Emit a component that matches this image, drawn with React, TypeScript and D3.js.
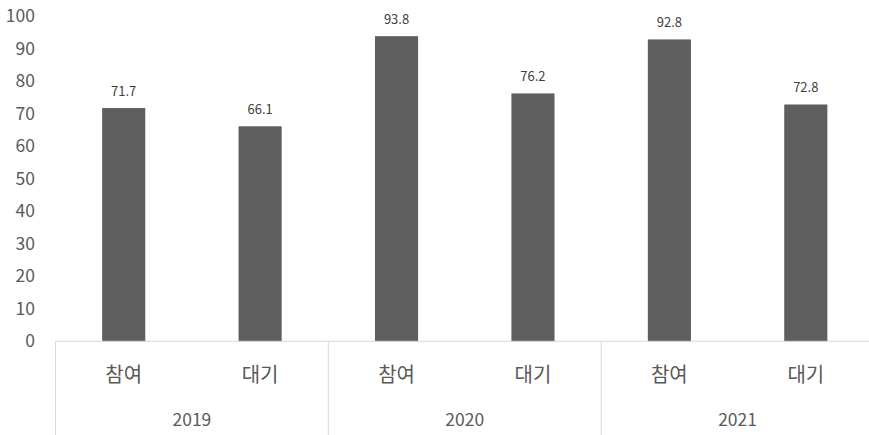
import React from "react";
import * as d3 from "d3";

const years = ["2019", "2020", "2021"];
const groups = ["참여", "대기"];
const values2019 = [71.7, 66.1];
const values2020 = [93.8, 76.2];
const values2021 = [92.8, 72.8];
const yTicks = [0, 10, 20, 30, 40, 50, 60, 70, 80, 90, 100];

const W = 869;
const H = 435;
const left = 55.5;
const right = 874;
const top = 16;
const bottom = 341.3;

const font = "'Noto Sans CJK KR', 'Noto Sans', sans-serif";

export default function App() {
  const seriesByYear = [values2019, values2020, values2021];
  const rows = years.flatMap((yr, i) =>
    groups.map((g, j) => ({ key: `${yr}-${g}`, year: yr, group: g, value: seriesByYear[i][j] }))
  );

  const x = d3
    .scaleBand<string>()
    .domain(rows.map((r) => r.key))
    .range([left, right])
    .paddingInner(0.684)
    .paddingOuter(0.342);
  const yearX = d3.scaleBand<string>().domain(years).range([left, right]);
  const y = d3.scaleLinear().domain([0, 100]).range([bottom, top]);

  return (
    <svg width={W} height={H} style={{ position: "absolute", left: 0, top: 0, background: "#fff" }}>
      {yTicks.map((t) => (
        <text
          key={t}
          x={35}
          y={y(t)}
          dy="0.35em"
          textAnchor="end"
          fontSize={17.5}
          fill="#595959"
          fontFamily={font}
        >
          {t}
        </text>
      ))}
      {rows.map((r) => (
        <g key={r.key}>
          <rect
            x={x(r.key)}
            y={y(r.value)}
            width={x.bandwidth()}
            height={y(0) - y(r.value)}
            fill="#5e5e5e"
          />
          <text
            x={(x(r.key) as number) + x.bandwidth() / 2}
            y={y(r.value) - 12}
            textAnchor="middle"
            fontSize={13}
            fill="#404040"
            fontFamily={font}
          >
            {r.value.toFixed(1)}
          </text>
          <text
            x={(x(r.key) as number) + x.bandwidth() / 2}
            y={375}
            dy="0.35em"
            textAnchor="middle"
            fontSize={20}
            fill="#595959"
            fontFamily={font}
          >
            {r.group}
          </text>
        </g>
      ))}
      <line x1={left} x2={W} y1={bottom} y2={bottom} stroke="#d9d9d9" strokeWidth={1} />
      {years.map((yr) => (
        <g key={yr}>
          <line
            x1={yearX(yr)}
            x2={yearX(yr)}
            y1={bottom}
            y2={H}
            stroke="#d9d9d9"
            strokeWidth={1}
          />
          <text
            x={(yearX(yr) as number) + yearX.bandwidth() / 2}
            y={420}
            dy="0.35em"
            textAnchor="middle"
            fontSize={17.5}
            fill="#595959"
            fontFamily={font}
          >
            {yr}
          </text>
        </g>
      ))}
    </svg>
  );
}
